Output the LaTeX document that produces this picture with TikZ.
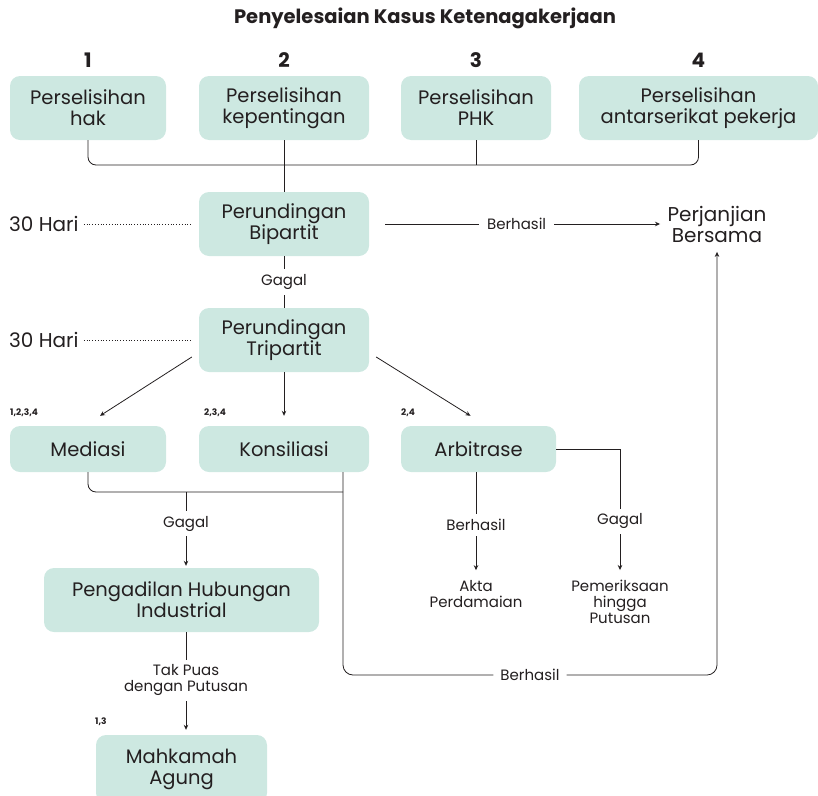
\documentclass[tikz,border=0pt]{standalone}
\usepackage{fontspec}
\setmainfont{Poppins}
\usetikzlibrary{arrows.meta}
\definecolor{boxteal}{HTML}{CDE8E1}
\definecolor{ink}{HTML}{231F20}

\begin{document}
\begin{tikzpicture}[x=1pt, y=-1pt,
  box/.style={rounded corners=10pt, fill=boxteal, align=center, inner sep=0pt,
    minimum height=64pt, text=ink, font=\fontsize{19.5}{21}\selectfont},
  num/.style={text=ink, font=\bfseries\fontsize{20}{24}\selectfont},
  side/.style={text=ink, align=center, font=\fontsize{20}{21}\selectfont},
  lbl/.style={fill=white, align=center, inner sep=5pt, text=ink,
    font=\fontsize{15}{16}\selectfont},
  res/.style={align=center, inner sep=2pt, text=ink, font=\fontsize{15}{16}\selectfont},
  tag/.style={anchor=west, inner sep=0pt, text=ink, font=\bfseries\fontsize{9}{10}\selectfont},
  line/.style={draw=ink, line width=0.8pt},
  arr/.style={line, -{Stealth[length=5pt,width=4.5pt]}},
  dots/.style={draw=ink, line width=0.8pt, dotted}]

\useasboundingbox (0,0) rectangle (818,795);
\clip (0,0) rectangle (818,795);

% Title
\node[text=ink, font=\bfseries\fontsize{19.5}{22}\selectfont] (title) at (425,18) {Penyelesaian Kasus Ketenagakerjaan};

% Kinds of dispute
\node[num] (n1) at (88,60) {1};
\node[num] (n2) at (284,60) {2};
\node[num] (n3) at (476,60) {3};
\node[num] (n4) at (698.5,60) {4};
\node[box, minimum width=156pt] (hak) at (88,108) {Perselisihan\\hak};
\node[box, minimum width=170pt] (kep) at (284,108) {Perselisihan\\kepentingan};
\node[box, minimum width=150pt] (phk) at (476,108) {Perselisihan\\PHK};
\node[box, minimum width=239pt] (antar) at (698.5,108) {Perselisihan\\antarserikat pekerja};

% Negotiation
\node[box, minimum width=170pt] (bip) at (284,224) {Perundingan\\Bipartit};
\node[box, minimum width=170pt] (trip) at (284,340) {Perundingan\\Tripartit};
\node[side, anchor=west, inner sep=0pt] (hari1) at (9,224) {30 Hari};
\node[side, anchor=west, inner sep=0pt] (hari2) at (9,340) {30 Hari};
\node[side, inner ysep=9pt] (pb) at (717,224.5) {Perjanjian\\Bersama};

% Settlement routes
\node[box, minimum width=156pt, minimum height=46pt] (med) at (88,449) {Mediasi};
\node[box, minimum width=170pt, minimum height=46pt] (kons) at (284,449) {Konsiliasi};
\node[box, minimum width=155pt, minimum height=46pt] (arb) at (478.5,449) {Arbitrase};
\node[tag] (t1) at (10,413) {1,2,3,4};
\node[tag] (t2) at (204,413) {2,3,4};
\node[tag] (t3) at (401,413) {2,4};
\node[res] (akta) at (476,594) {Akta\\Perdamaian};
\node[res] (pem) at (620,602) {Pemeriksaan\\hingga\\Putusan};

% Court
\node[box, minimum width=275pt] (phi) at (181.5,600) {Pengadilan Hubungan\\Industrial};
\node[box, minimum width=171pt, minimum height=68pt] (ma) at (181.5,769) {Mahkamah\\Agung};
\node[tag] (t4) at (95,722) {1,3};

\coordinate (join) at (284,165);
\coordinate (mj) at (343,492);
\coordinate (gj) at (186,492);
\coordinate (bl) at (343,675);
\coordinate (br) at (717,675);

% Connections
\draw[line, rounded corners=8pt] (hak.south) |- (join) -| (antar.south);
\draw[line] (phk.south) -- (phk.south |- join);
\draw[line] (kep.south) -- (bip.north);
\draw[dots, shorten <=5pt, shorten >=6pt] (hari1.east) -- (bip.west);
\draw[dots, shorten <=5pt, shorten >=6pt] (hari2.east) -- (trip.west);
\draw[arr, shorten <=16pt, shorten >=4pt] (bip.east) -- node[lbl, inner xsep=8pt] {Berhasil} (pb.west |- bip.east);
\draw[line] (bip) -- node[lbl] {Gagal} (trip);

\draw[arr] ([shift={(-7,17)}]trip.west) -- ([shift={(12,-10)}]med.north);
\draw[arr] (trip.south) -- ([yshift=10pt]kons.north);
\draw[arr] ([shift={(7,17)}]trip.east) -- ([shift={(-8,-10)}]arb.north);

\draw[line, rounded corners=8pt] (med.south) |- (mj);
\draw[arr, rounded corners=10pt] (kons.south -| mj) -- (bl) -- node[lbl, inner xsep=7pt] {Berhasil} (br) -- (pb.south);
\draw[arr, shorten >=2pt] (gj) -- node[lbl, pos=0.42] {Gagal} (gj |- phi.north);
\draw[arr, shorten >=5pt] (phi.south -| gj) -- node[lbl, pos=0.47] {Tak Puas\\dengan Putusan} (ma.north -| gj);

\draw[arr, shorten >=8pt] (arb.south -| akta) -- node[lbl] {Berhasil} (akta.north);
\draw[arr, shorten >=8pt] (arb.east) -| node[lbl, pos=0.78] {Gagal} (pem.north);
\end{tikzpicture}
\end{document}
